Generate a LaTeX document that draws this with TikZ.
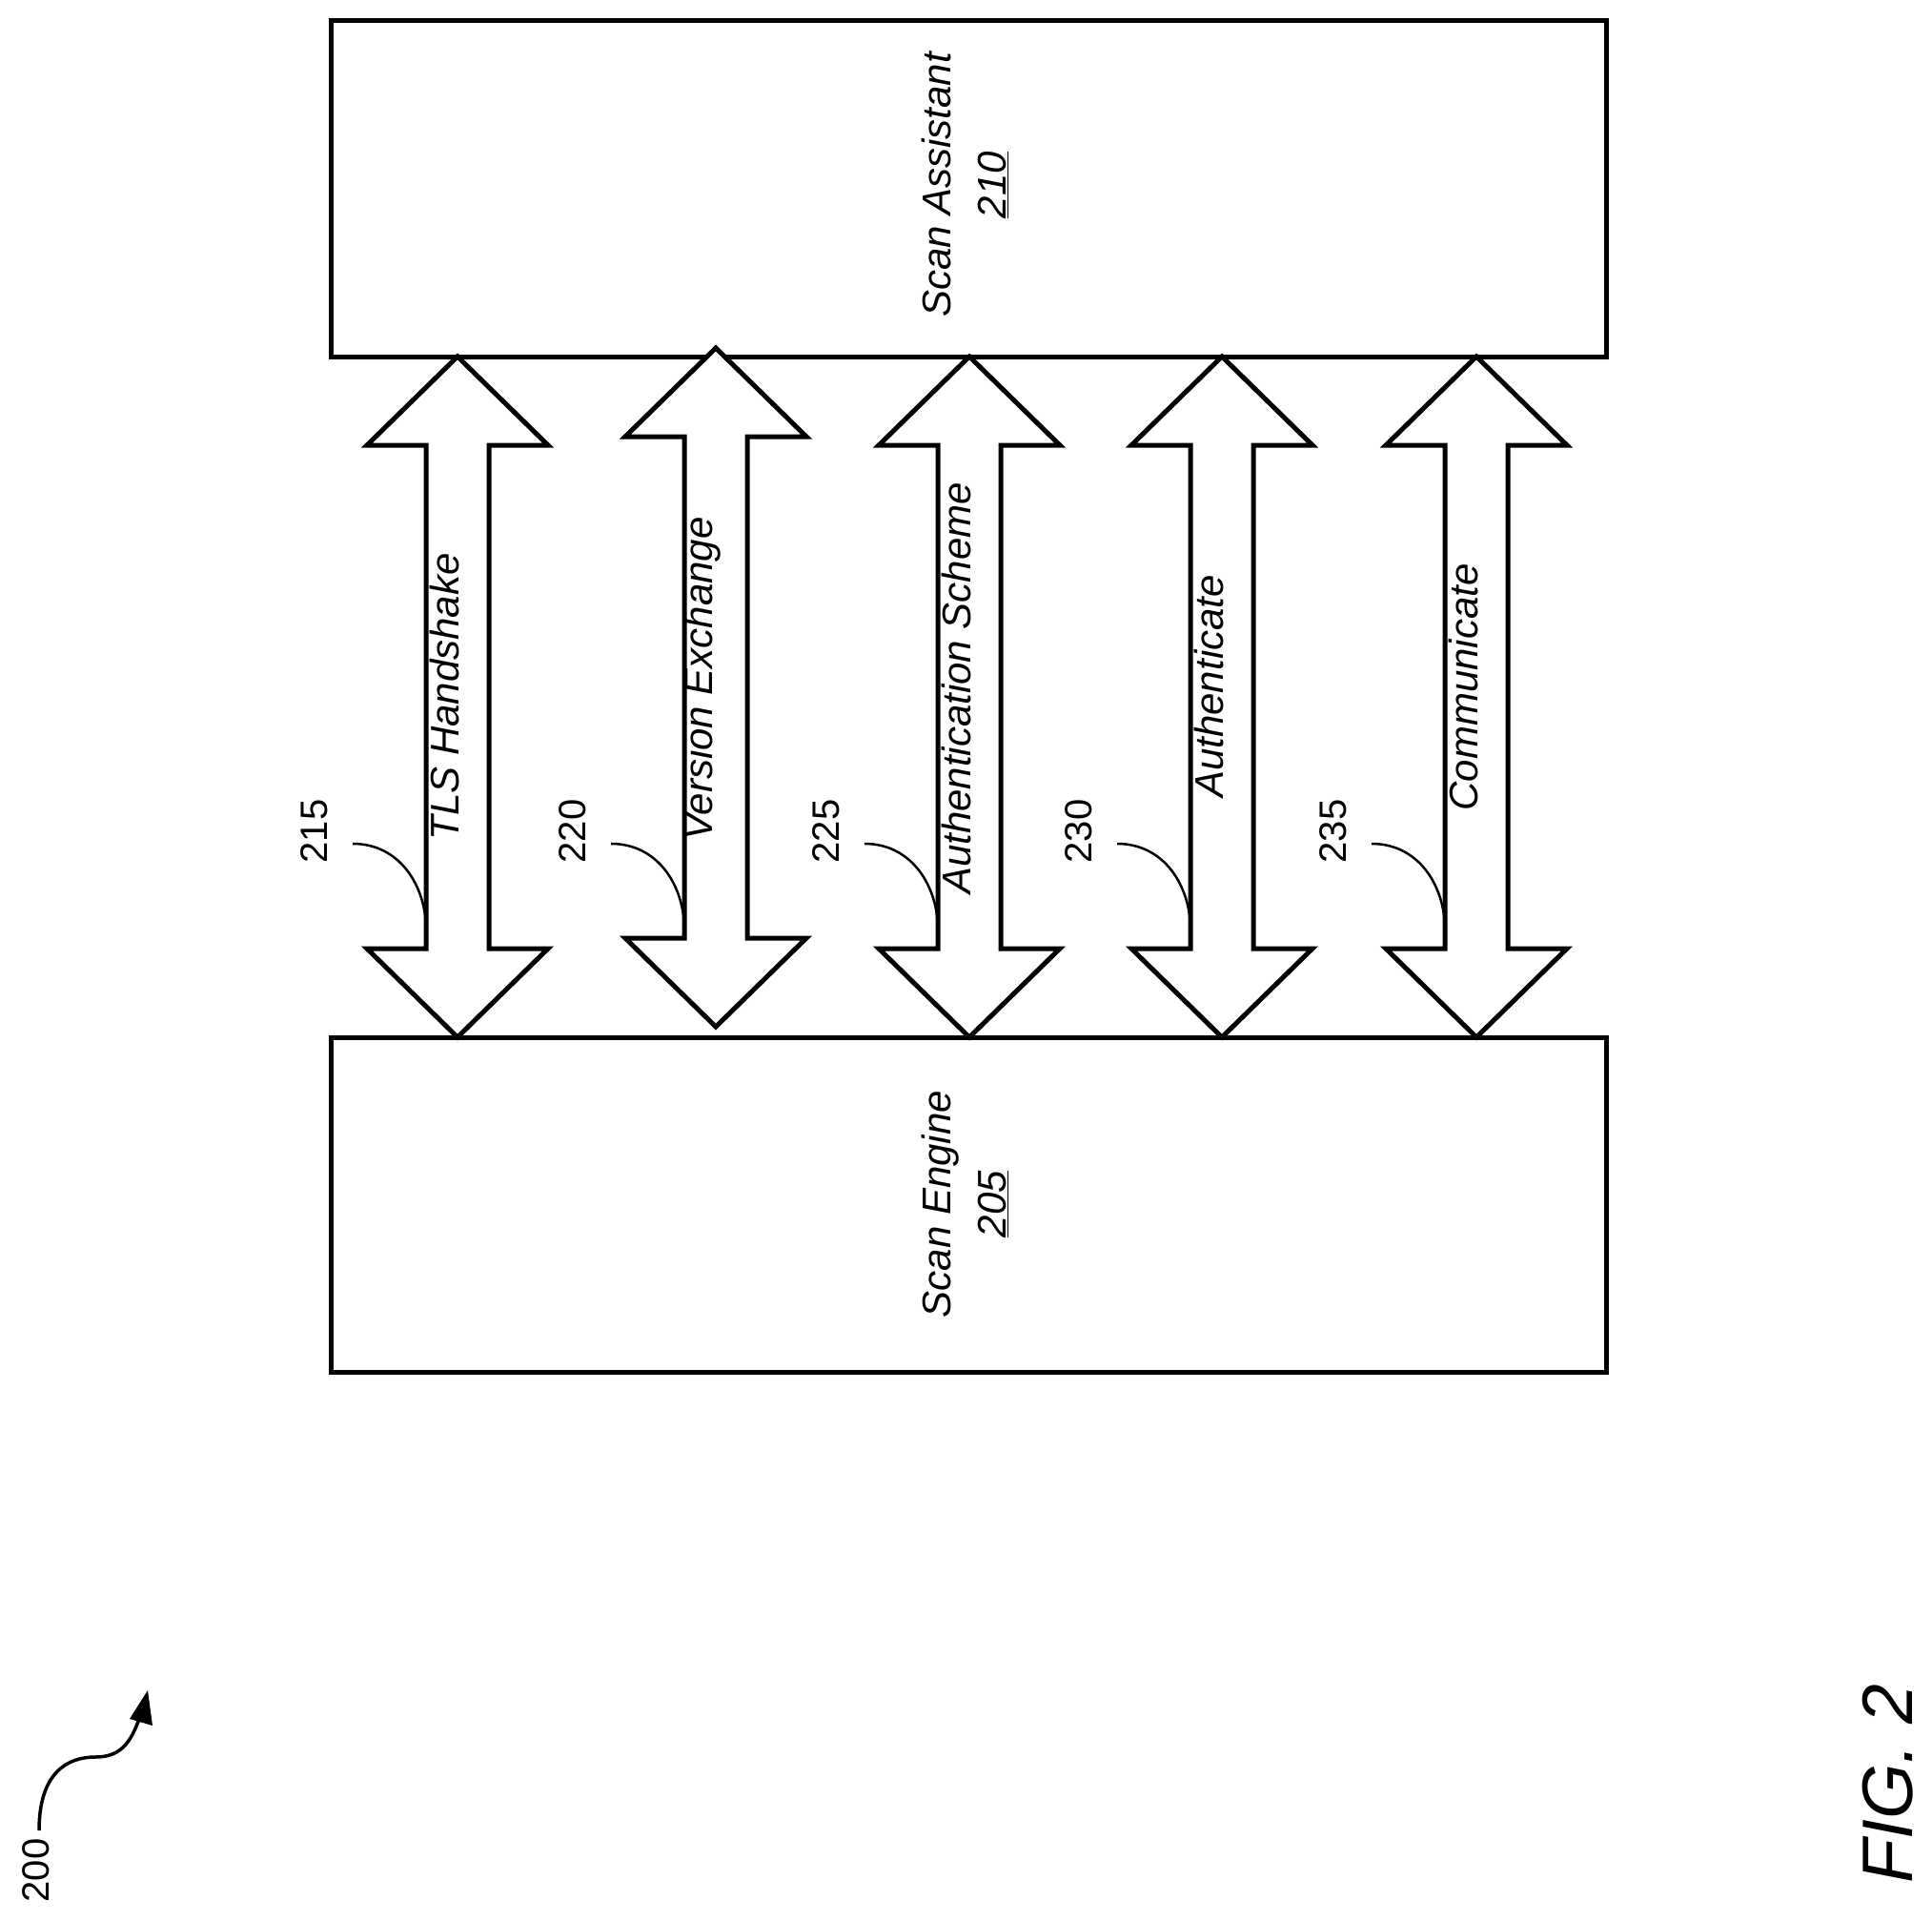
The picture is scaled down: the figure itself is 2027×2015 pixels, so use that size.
\documentclass[tikz,border=0pt]{standalone}
\usepackage{fontspec}
\setmainfont{Liberation Sans}
\begin{document}
\begin{tikzpicture}[x=1pt,y=-1pt,line join=miter,
  box/.style={draw,line width=5pt},
  dbl/.style={draw,line width=5pt,fill=white},
  lbl/.style={rotate=90,font=\fontsize{42}{58}\selectfont\itshape,inner sep=0pt,align=center},
  num/.style={rotate=90,font=\fontsize{40}{48}\selectfont,inner sep=0pt},
  lead/.style={line width=2.5pt}]
\useasboundingbox (0,0) rectangle (2027,2015);
\draw[box] (347,22) rectangle (1685,374);
\node[lbl] (sa) at (1012,194) {Scan Assistant\\\underline{210}};
\draw[box] (347,1088) rectangle (1685,1439);
\node[lbl] (se) at (1012,1263) {Scan Engine\\\underline{205}};
% double arrows
\foreach \c/\t/\b/\lab/\ly/\n in {480/374/1088/TLS Handshake/731/215,
    751/365/1077/Version Exchange/712/220,
    1017/374/1088/Authentication Scheme/722/225,
    1282/374/1088/Authenticate/720/230,
    1549/374/1088/Communicate/721/235}{
  \pgfmathsetmacro\hb{\t+93}
  \pgfmathsetmacro\bb{\b-93}
  \draw[dbl] (\c,\t) -- (\c+95,\hb) -- (\c+33,\hb) -- (\c+33,\bb) -- (\c+95,\bb)
     -- (\c,\b) -- (\c-95,\bb) -- (\c-33,\bb) -- (\c-33,\hb) -- (\c-95,\hb) -- cycle;
  \node[lbl] at (\c-14,\ly) {\lab};
  \node[num] at (\c-150,872) {\n};
  \draw[lead] (\c-110,885) .. controls (\c-60,885) and (\c-33,930) .. (\c-33,975);
}
% 200
\node[num] (n200) at (38,1962) {200};
\coordinate (a0) at (41,1920);
\coordinate (a1) at (100,1843);
\coordinate (a2) at (155,1773);
\draw[line width=3.5pt] (a0) .. controls (41,1860) and (70,1843) .. (a1)
  .. controls (125,1843) and (137,1830) .. (147,1800);
\fill (a2) -- (160,1810) -- (136,1803) -- cycle;
\node[rotate=90,font=\fontsize{75}{80}\selectfont\itshape,inner sep=0pt] (fig) at (1981,1871) {FIG. 2};
\end{tikzpicture}
\end{document}
